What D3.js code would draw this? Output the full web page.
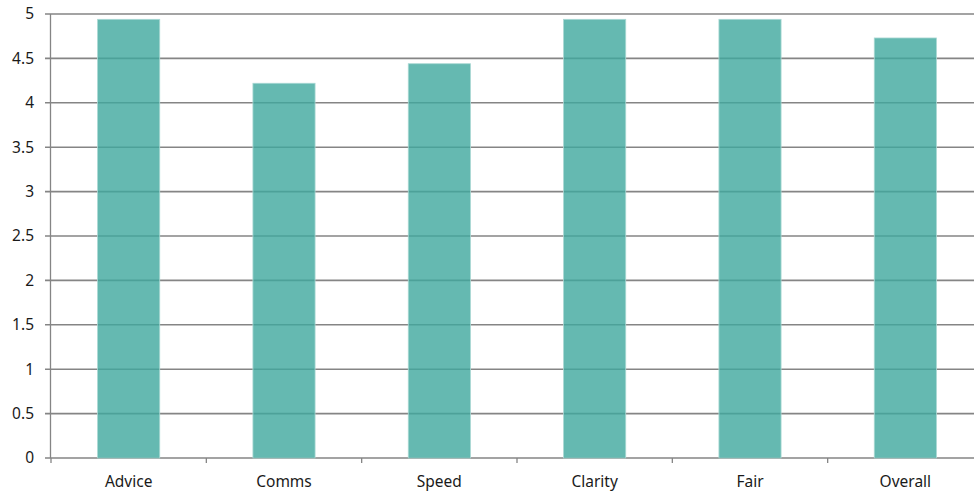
<!DOCTYPE html>
<html><head><meta charset="utf-8">
<script src="https://cdn.jsdelivr.net/npm/d3@7"></script>
<style>body{margin:0;background:#fff;} svg{display:block;}</style>
</head><body>
<svg id="c" width="974" height="493"></svg>
<script>
const categories = ["Advice","Comms","Speed","Clarity","Fair","Overall"];
const values = [4.94, 4.22, 4.44, 4.94, 4.94, 4.73];
const yTicks = [0,0.5,1,1.5,2,2.5,3,3.5,4,4.5,5];

const svg = d3.select("#c");
const m = {left:51, top:14, right:-9, bottom:35};
const W = 974, H = 493;
const x = d3.scaleBand().domain(categories).range([m.left, W - m.right]).paddingInner(0.6).paddingOuter(0.3);
const y = d3.scaleLinear().domain([0,5]).range([458, 14]);
const font = "'Noto Sans', sans-serif";

// gridlines
svg.append("g").selectAll("line").data(yTicks).join("line")
  .attr("x1", m.left-6).attr("x2", W)
  .attr("y1", d=>y(d)).attr("y2", d=>y(d))
  .attr("stroke", "#858585").attr("stroke-width", 1.6);

// bars
svg.append("g").selectAll("rect").data(values).join("rect")
  .attr("x", (d,i)=>x(categories[i]))
  .attr("width", x.bandwidth())
  .attr("y", d=>y(d)).attr("height", d=>y(0)-y(d))
  .attr("fill", "#3fa79d").attr("fill-opacity", 0.8)
  .attr("stroke", "#a8d8d3").attr("stroke-width", 0.8);

// y axis line
svg.append("line").attr("x1", m.left-0.5).attr("x2", m.left-0.5)
  .attr("y1", y(5)).attr("y2", y(0)).attr("stroke", "#858585").attr("stroke-width", 1.3);

// x axis ticks (category boundaries)
const step = x.step();
svg.append("g").selectAll("line").data(d3.range(0, categories.length+1)).join("line")
  .attr("x1", i => m.left + i*step).attr("x2", i => m.left + i*step)
  .attr("y1", y(0)).attr("y2", y(0)+5)
  .attr("stroke", "#858585").attr("stroke-width", 1.3);

// y labels
svg.append("g").selectAll("text").data(yTicks).join("text")
  .attr("x", 34).attr("y", d=>y(d)).attr("dy", "0.35em")
  .attr("text-anchor", "end").attr("font-family", font).attr("font-size", 15.5)
  .attr("fill", "#1a1a1a").text(d=>d);

// x labels
svg.append("g").selectAll("text").data(categories).join("text")
  .attr("x", d=>x(d)+x.bandwidth()/2).attr("y", 482).attr("dy","0.35em")
  .attr("text-anchor", "middle").attr("font-family", font).attr("font-size", 15.5)
  .attr("fill", "#1a1a1a").text(d=>d);
</script>
</body></html>
